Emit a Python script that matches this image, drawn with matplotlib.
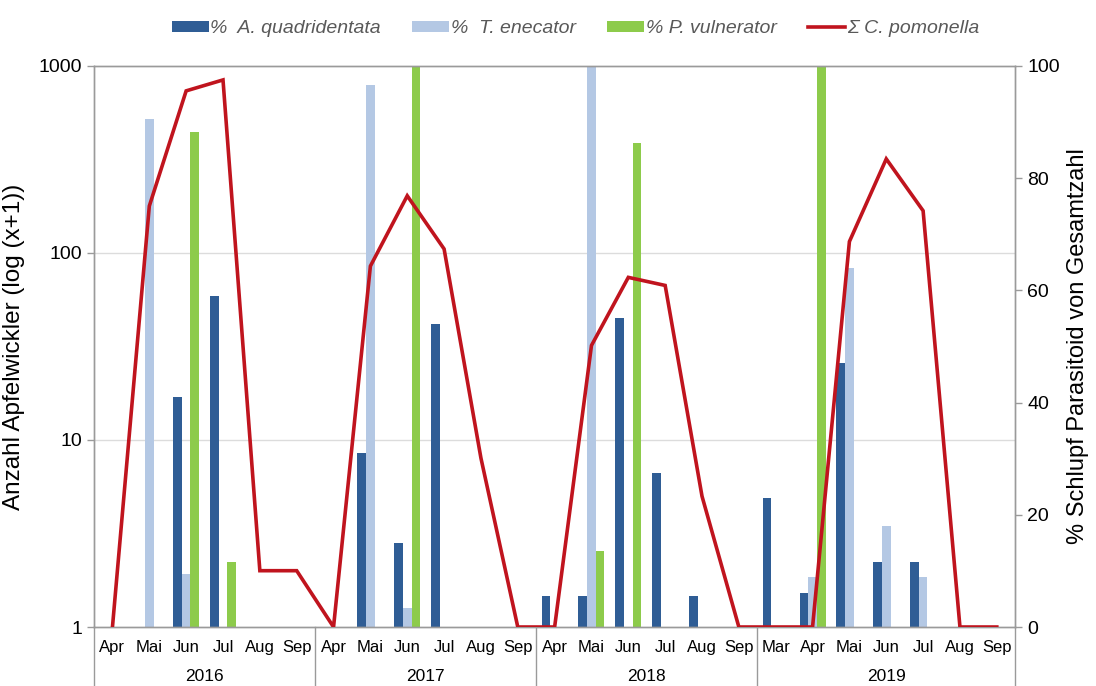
import matplotlib
matplotlib.use("Agg")
import matplotlib.pyplot as plt
import matplotlib.transforms as mtransforms
from matplotlib.patches import Patch
from matplotlib.lines import Line2D
import numpy as np

plt.rcParams['font.family'] = ['Liberation Sans', 'DejaVu Sans']

# ---- data ----
years = ["2016", "2017", "2018", "2019"]
months_per_year = [
    ["Apr", "Mai", "Jun", "Jul", "Aug", "Sep"],
    ["Apr", "Mai", "Jun", "Jul", "Aug", "Sep"],
    ["Apr", "Mai", "Jun", "Jul", "Aug", "Sep"],
    ["Mar", "Apr", "Mai", "Jun", "Jul", "Aug", "Sep"],
]
month_labels = [m for ms in months_per_year for m in ms]

# % parasitoid emergence (right axis)
pct_aquad = [0, 0, 41, 59, 0, 0,
             0, 31, 15, 54, 0, 0,
             5.5, 5.5, 55, 27.5, 5.5, 0,
             23, 6, 47, 11.6, 11.6, 0, 0]
pct_tenec = [0, 90.5, 9.4, 0, 0, 0,
             0, 96.5, 3.4, 0, 0, 0,
             0, 100, 0, 0, 0, 0,
             0, 9, 64, 18, 9, 0, 0]
pct_pvuln = [0, 0, 88.3, 11.6, 0, 0,
             0, 0, 100, 0, 0, 0,
             0, 13.5, 86.3, 0, 0, 0,
             0, 100, 0, 0, 0, 0, 0]
# Sum C. pomonella counts (left axis, plotted as x+1 on log scale)
count_cpom = [0, 177, 734, 840, 1, 1,
              0, 84, 201, 104, 7, 0,
              0, 31, 73, 66, 4, 0,
              0, 0, 114, 317, 167, 0, 0]

# ---- colours ----
c_aquad = "#2F5D95"
c_tenec = "#B4C8E4"
c_pvuln = "#8DCB4B"
c_cpom = "#C0141E"
frame = "#9A9A9A"

n = len(month_labels)
x = np.arange(n)

fig = plt.figure(figsize=(10.96, 6.86), dpi=100)
ax_pct = fig.add_axes([0.0858, 0.086, 0.8405, 0.818])
ax_log = ax_pct.twinx()

# bars on the percentage axis
w = 0.235
ax_pct.bar(x - w, pct_aquad, width=w, color=c_aquad, zorder=2)
ax_pct.bar(x, pct_tenec, width=w, color=c_tenec, zorder=2)
ax_pct.bar(x + w, pct_pvuln, width=w, color=c_pvuln, zorder=2)
ax_pct.set_ylim(0, 100)
ax_pct.set_yticks(range(0, 101, 20))
ax_pct.yaxis.tick_right()
ax_pct.yaxis.set_label_position("right")
ax_pct.set_ylabel("% Schlupf Parasitoid von Gesamtzahl", fontsize=17, labelpad=5)
for frac in (1/3, 2/3):
    ax_pct.axhline(frac * 100, color="#DCDCDC", lw=1.0, zorder=0)

# line on the log axis
ax_log.plot(x, np.array(count_cpom) + 1, color=c_cpom, lw=2.6, zorder=3,
            solid_joinstyle="miter")
ax_log.set_yscale("log")
ax_log.set_ylim(1, 1000)
ax_log.set_yticks([1, 10, 100, 1000])
ax_log.set_yticklabels(["1", "10", "100", "1000"])
ax_log.yaxis.set_minor_locator(matplotlib.ticker.NullLocator())
ax_log.yaxis.tick_left()
ax_log.yaxis.set_label_position("left")
ax_log.set_ylabel("Anzahl Apfelwickler (log (x+1))", fontsize=17.5, labelpad=10)

for a in (ax_pct, ax_log):
    a.set_xlim(-0.5, n - 0.5)
    for s in a.spines.values():
        s.set_color(frame)
        s.set_linewidth(1.0)
    a.tick_params(axis="y", labelsize=14, color=frame, length=5, width=1)

ax_pct.set_xticks(x)
ax_pct.set_xticklabels(month_labels, fontsize=12)
ax_pct.tick_params(axis="x", length=0, pad=9)
ax_log.tick_params(axis="x", length=0, labelbottom=False)

# year group labels and separators
trans = mtransforms.blended_transform_factory(ax_pct.transData, ax_pct.transAxes)
start = 0
bounds = [-0.5]
for yr, ms in zip(years, months_per_year):
    end = start + len(ms)
    ax_pct.text((start + end - 1) / 2, -0.088, yr, transform=trans,
                ha="center", va="center", fontsize=12.5)
    bounds.append(end - 0.5)
    start = end
for b in bounds:
    ax_pct.plot([b, b], [0, -0.11], transform=trans, color=frame, lw=1.0,
                clip_on=False)

# legend
handles = [
    Patch(facecolor=c_aquad, edgecolor="none"),
    Patch(facecolor=c_tenec, edgecolor="none"),
    Patch(facecolor=c_pvuln, edgecolor="none"),
    Line2D([0], [0], color=c_cpom, lw=2.6),
]
labels = ["%  A. quadridentata", "%  T. enecator", "% P. vulnerator", "Σ C. pomonella"]
leg = fig.legend(handles, labels, loc="center", bbox_to_anchor=(0.525, 0.958),
                 ncol=4, frameon=False, fontsize=14, handlelength=1.9,
                 handleheight=0.45, handletextpad=0.1, columnspacing=1.6)
for t in leg.get_texts():
    t.set_fontstyle("italic")
    t.set_color("#595959")

fig.savefig("out.png", dpi=100)
